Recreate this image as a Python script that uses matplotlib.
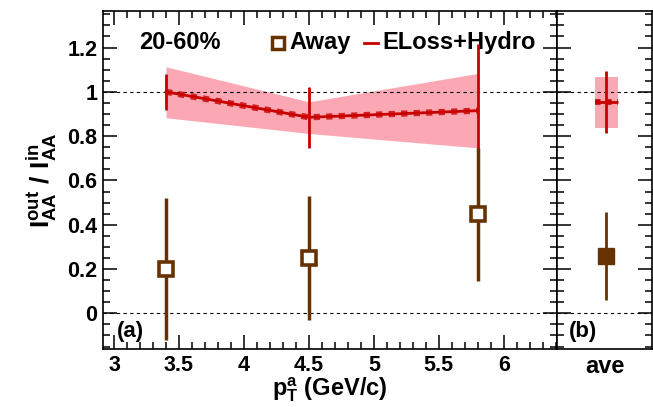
import numpy as np
import matplotlib.pyplot as plt
from matplotlib.ticker import MultipleLocator

plt.rcParams['font.family'] = ['Liberation Sans', 'DejaVu Sans']
plt.rcParams['font.weight'] = 'bold'
plt.rcParams['axes.labelweight'] = 'bold'
plt.rcParams['mathtext.fontset'] = 'custom'
plt.rcParams['mathtext.rm'] = 'Liberation Sans:bold'
plt.rcParams['mathtext.it'] = 'Liberation Sans:bold'
plt.rcParams['mathtext.bf'] = 'Liberation Sans:bold'

# Away-side data (panel a)
pt_away = [3.4, 4.5, 5.8]
iaa_away = [0.20, 0.248, 0.448]
err_away = [0.32, 0.28, 0.30]

# ELoss+Hydro model
pt_model = [3.4, 4.5, 5.8]
iaa_model = [1.0, 0.885, 0.915]
err_model_lo = [0.08, 0.138, 0.36]
err_model_hi = [0.08, 0.138, 0.30]
band_lo = [0.883, 0.812, 0.747]
band_hi = [1.113, 0.955, 1.083]

# averages (panel b)
ave_away = 0.259
ave_away_err = 0.20
ave_model = 0.955
ave_model_err = 0.14
ave_band = [0.838, 1.065]

brown = '#663300'
red = '#c80000'
pink = '#fca8b4'

fig = plt.figure(figsize=(6.53, 4.07), dpi=100)
ax = fig.add_axes([0.1577, 0.1425, 0.6953, 0.830])
axb = fig.add_axes([0.853, 0.1425, 0.1455, 0.830])

ylo, yhi = -0.161, 1.364

# panel a
ax.fill_between(pt_model, band_lo, band_hi, color=pink, lw=0, zorder=1)
ax.axhline(1, color='black', ls=(0, (3, 3)), lw=0.8, zorder=2)
ax.axhline(0, color='black', ls=(0, (3, 3)), lw=0.8, zorder=2)
ax.plot(pt_model, iaa_model, color=red, lw=2, zorder=3)
ax.plot(pt_model, iaa_model, color=red, lw=4.5, ls=(0, (1, 1)), alpha=0.8, zorder=3)
ax.errorbar(pt_model, iaa_model, yerr=[err_model_lo, err_model_hi], fmt='none',
            ecolor=red, elinewidth=2, zorder=4)
ax.errorbar(pt_away, iaa_away, yerr=err_away, fmt='s', color=brown, ms=10,
            mfc='white', mec=brown, mew=2.6, elinewidth=2.5, zorder=5)

ax.set_xlim(2.915, 6.41)
ax.set_ylim(ylo, yhi)
ax.xaxis.set_major_locator(MultipleLocator(0.5))
ax.xaxis.set_minor_locator(MultipleLocator(0.1))
ax.yaxis.set_major_locator(MultipleLocator(0.2))
ax.yaxis.set_minor_locator(MultipleLocator(0.05))
ax.set_xticks([3, 3.5, 4, 4.5, 5, 5.5, 6])
ax.set_xticklabels(['3', '3.5', '4', '4.5', '5', '5.5', '6'])
ax.set_yticks([0, 0.2, 0.4, 0.6, 0.8, 1, 1.2])
ax.set_yticklabels(['0', '0.2', '0.4', '0.6', '0.8', '1', '1.2'])
ax.tick_params(which='both', direction='in', top=True, right=True, labelsize=15.5, width=1.1, pad=4)
ax.tick_params(which='major', length=10)
ax.tick_params(which='minor', length=5)
for s in ax.spines.values():
    s.set_linewidth(1.2)

ax.set_ylabel(r'$\mathbf{I_{AA}^{out}\ /\ I_{AA}^{in}}$', fontsize=19, labelpad=6)
ax.set_xlabel(r'$\mathbf{p_{T}^{a}}$ (GeV/c)', fontsize=17, fontweight='bold', labelpad=0)

ax.text(0.08, 0.907, '20-60%', transform=ax.transAxes, fontsize=17, fontweight='bold', va='center')
ax.plot([0.385], [0.907], 's', transform=ax.transAxes, ms=9, mfc='white', mec=brown, mew=2.5,
        clip_on=False)
ax.text(0.41, 0.907, 'Away', transform=ax.transAxes, fontsize=17, fontweight='bold', va='center')
ax.plot([0.575, 0.605], [0.907, 0.907], transform=ax.transAxes, color=red, lw=2)
ax.text(0.615, 0.907, 'ELoss+Hydro', transform=ax.transAxes, fontsize=17, fontweight='bold', va='center')
ax.text(0.03, 0.052, '(a)', transform=ax.transAxes, fontsize=16, fontweight='bold', va='center')

# panel b
xb = 0.52
axb.fill_between([xb - 0.125, xb + 0.125], ave_band[0], ave_band[1], color=pink, lw=0, zorder=1)
axb.axhline(1, color='black', ls=(0, (3, 3)), lw=0.8, zorder=2)
axb.axhline(0, color='black', ls=(0, (3, 3)), lw=0.8, zorder=2)
axb.errorbar([xb], [ave_model], yerr=ave_model_err, xerr=0.12, fmt='none', ecolor=red,
             elinewidth=2, zorder=4)
axb.plot([xb - 0.12, xb + 0.12], [ave_model, ave_model], color=red, lw=4, ls=(0, (1, 1)), zorder=4)
axb.errorbar([xb], [ave_away], yerr=ave_away_err, fmt='s', color=brown, ms=11,
             mfc=brown, mec=brown, elinewidth=2, zorder=5)
axb.set_xlim(0, 1)
axb.set_ylim(ylo, yhi)
axb.set_xticks([])
axb.yaxis.set_major_locator(MultipleLocator(0.2))
axb.yaxis.set_minor_locator(MultipleLocator(0.05))
axb.tick_params(which='both', direction='in', left=True, right=True, labelleft=False, width=1.1)
axb.tick_params(which='major', length=10)
axb.tick_params(which='minor', length=5)
for s in axb.spines.values():
    s.set_linewidth(1.2)
axb.set_xlabel('ave', fontsize=17, fontweight='bold', labelpad=4)
axb.text(0.12, 0.052, '(b)', transform=axb.transAxes, fontsize=16, fontweight='bold', va='center')

fig.savefig('out.png', dpi=100)
